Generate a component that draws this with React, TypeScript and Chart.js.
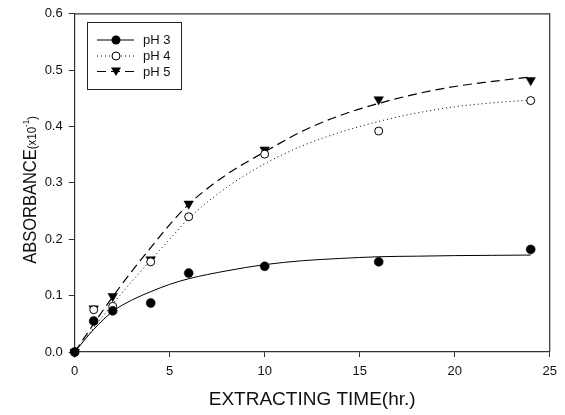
import React, { useEffect, useRef } from "react";
import { Chart, registerables } from "chart.js";

Chart.register(...registerables);

// ---- data ----
const times = [0, 1, 2, 4, 6, 10, 16, 24];
const ph3 = [0, 0.055, 0.073, 0.087, 0.14, 0.152, 0.16, 0.182];
const ph4 = [0, 0.075, 0.081, 0.16, 0.24, 0.351, 0.392, 0.446];
const ph5 = [0, 0.077, 0.099, 0.164, 0.263, 0.359, 0.448, 0.482];

const fitTimes = [0, 1, 2, 3, 4, 5, 6, 8, 10, 12, 14, 16, 18, 20, 22, 24];
const fit3 = [0, 0.04, 0.072, 0.092, 0.107, 0.12, 0.13, 0.144, 0.155, 0.162, 0.166, 0.169, 0.17, 0.171, 0.1715, 0.172];
const fit4 = [0, 0.043, 0.085, 0.125, 0.163, 0.2, 0.237, 0.292, 0.334, 0.366, 0.39, 0.409, 0.424, 0.435, 0.442, 0.447];
const fit5 = [0, 0.05, 0.098, 0.143, 0.185, 0.226, 0.262, 0.315, 0.355, 0.392, 0.42, 0.441, 0.458, 0.471, 0.48, 0.488];

const seriesLabels = ["pH 3", "pH 4", "pH 5"];
const xTickValues = [0, 5, 10, 15, 20, 25];
const yTickValues = [0, 0.1, 0.2, 0.3, 0.4, 0.5, 0.6];
const xTitle = "EXTRACTING TIME(hr.)";
const yTitleMain = "ABSORBANCE";
const yTitleUnit = "(x10";
const yTitleExp = "-1";
const yTitleClose = ")";

const FONT = "'Liberation Sans', Arial, sans-serif";
const INK = "#111";
const AXIS = "#333";

const pts = (xs: number[], ys: number[]) => xs.map((x, i) => ({ x, y: ys[i] }));

const lineDashes = [[], [1, 3], [9, 5]];
const markerKinds = ["filled", "open", "tri"];

function drawMarker(ctx: CanvasRenderingContext2D, kind: string, x: number, y: number) {
  ctx.save();
  ctx.setLineDash([]);
  ctx.lineWidth = 1;
  ctx.strokeStyle = "#000";
  if (kind === "filled") {
    ctx.beginPath();
    ctx.arc(x, y, 4.5, 0, Math.PI * 2);
    ctx.fillStyle = "#000";
    ctx.fill();
  } else if (kind === "open") {
    ctx.beginPath();
    ctx.arc(x, y, 4, 0, Math.PI * 2);
    ctx.fillStyle = "#fff";
    ctx.fill();
    ctx.stroke();
  } else {
    ctx.beginPath();
    ctx.moveTo(x - 5, y - 4);
    ctx.lineTo(x + 5, y - 4);
    ctx.lineTo(x, y + 4.5);
    ctx.closePath();
    ctx.fillStyle = "#000";
    ctx.fill();
  }
  ctx.restore();
}

const decorPlugin = {
  id: "decor",
  afterDraw(chart: any) {
    const { ctx, chartArea } = chart;
    const { left, right, top, bottom } = chartArea;
    ctx.save();
    // top and right frame lines
    ctx.strokeStyle = AXIS;
    ctx.lineWidth = 1.2;
    ctx.beginPath();
    ctx.moveTo(left, top);
    ctx.lineTo(right, top);
    ctx.lineTo(right, bottom);
    ctx.stroke();

    // legend
    const bx = 87.5, by = 22.5, bw = 94, bh = 67;
    ctx.lineWidth = 1;
    ctx.strokeStyle = "#222";
    ctx.strokeRect(bx, by, bw, bh);
    const rows = [40, 56, 71.5];
    ctx.font = `13px ${FONT}`;
    ctx.fillStyle = INK;
    ctx.textBaseline = "middle";
    ctx.textAlign = "left";
    seriesLabels.forEach((lab, i) => {
      const y = rows[i];
      ctx.save();
      ctx.strokeStyle = "#000";
      ctx.lineWidth = 1;
      ctx.setLineDash(lineDashes[i]);
      ctx.beginPath();
      ctx.moveTo(97, y);
      ctx.lineTo(134, y);
      ctx.stroke();
      ctx.restore();
      drawMarker(ctx, markerKinds[i], 116, y);
      ctx.fillStyle = INK;
      ctx.fillText(lab, 143, y + 0.5);
    });

    // x title
    ctx.font = `19px ${FONT}`;
    ctx.textAlign = "center";
    ctx.textBaseline = "middle";
    ctx.fillStyle = INK;
    ctx.fillText(xTitle, (left + right) / 2, 400);

    // y title (rotated, centred on the axis)
    const parts = [
      { t: yTitleMain, size: 16.5, dy: 0 },
      { t: yTitleUnit, size: 11.5, dy: 1.5 },
      { t: yTitleExp, size: 8, dy: -4 },
      { t: yTitleClose, size: 11.5, dy: 1.5 },
    ];
    let total = 0;
    parts.forEach((p) => {
      ctx.font = `${p.size}px ${FONT}`;
      total += ctx.measureText(p.t).width;
    });
    ctx.save();
    ctx.translate(31, (top + bottom) / 2 + 7 + total / 2);
    ctx.rotate(-Math.PI / 2);
    ctx.scale(1, 1.12);
    ctx.textAlign = "left";
    ctx.textBaseline = "middle";
    let cx = 0;
    parts.forEach((p) => {
      ctx.font = `${p.size}px ${FONT}`;
      ctx.fillText(p.t, cx, p.dy);
      cx += ctx.measureText(p.t).width;
    });
    ctx.restore();

    ctx.restore();
  },
};

export default function App() {
  const ref = useRef<HTMLCanvasElement | null>(null);
  useEffect(() => {
    document.body.style.margin = "0";
    const canvas = ref.current;
    if (!canvas) return;
    const pointDs = [ph3, ph4, ph5].map((ys, i) => ({
      label: seriesLabels[i],
      data: pts(times, ys),
      showLine: false,
      pointStyle: i === 2 ? "triangle" : "circle",
      pointRotation: i === 2 ? 180 : 0,
      pointRadius: i === 0 ? 4.5 : i === 1 ? 4 : 5.5,
      pointBackgroundColor: i === 1 ? "#fff" : "#000",
      pointBorderColor: "#000",
      pointBorderWidth: i === 1 ? 1 : 0.5,
      clip: false as any,
    }));
    const fitDs = [fit3, fit4, fit5].map((ys, i) => ({
      label: seriesLabels[i] + " fit",
      data: pts(fitTimes, ys),
      showLine: true,
      pointRadius: 0,
      borderColor: "#000",
      borderWidth: i === 2 ? 1.2 : 1,
      borderDash: lineDashes[i],
      cubicInterpolationMode: "monotone" as const,
      fill: false,
    }));
    const chart = new Chart(canvas, {
      type: "scatter",
      data: { datasets: [...pointDs, ...fitDs] as any },
      options: {
        animation: false,
        responsive: false,
        devicePixelRatio: 1,
        layout: { padding: { left: 0, top: 10.7, right: 15.3, bottom: 0 } },
        plugins: { legend: { display: false }, tooltip: { enabled: false } },
        scales: {
          x: {
            type: "linear",
            min: 0,
            max: 25,
            afterFit: (s: any) => { s.height = 63; },
            afterBuildTicks: (s: any) => { s.ticks = xTickValues.map((v) => ({ value: v })); },
            ticks: { font: { size: 13, family: FONT }, color: INK, padding: 7, maxRotation: 0 },
            grid: { drawOnChartArea: false, drawTicks: true, tickLength: 5, color: AXIS, lineWidth: 1 },
            border: { display: true, color: AXIS, width: 1.2 },
            title: { display: false },
          },
          y: {
            type: "linear",
            min: 0,
            max: 0.6,
            afterFit: (s: any) => { s.width = 74.7; },
            afterBuildTicks: (s: any) => { s.ticks = yTickValues.map((v) => ({ value: v })); },
            ticks: {
              font: { size: 13, family: FONT },
              color: INK,
              padding: 6,
              callback: (v: any) => Number(v).toFixed(1),
            },
            grid: { drawOnChartArea: false, drawTicks: true, tickLength: 6, color: AXIS, lineWidth: 1 },
            border: { display: true, color: AXIS, width: 1.2 },
            title: { display: false },
          },
        },
      },
      plugins: [decorPlugin],
    });
    return () => chart.destroy();
  }, []);
  return (
    <div style={{ width: 565, height: 415, background: "#fff" }}>
      <canvas ref={ref} width={565} height={415} style={{ display: "block" }} />
    </div>
  );
}
